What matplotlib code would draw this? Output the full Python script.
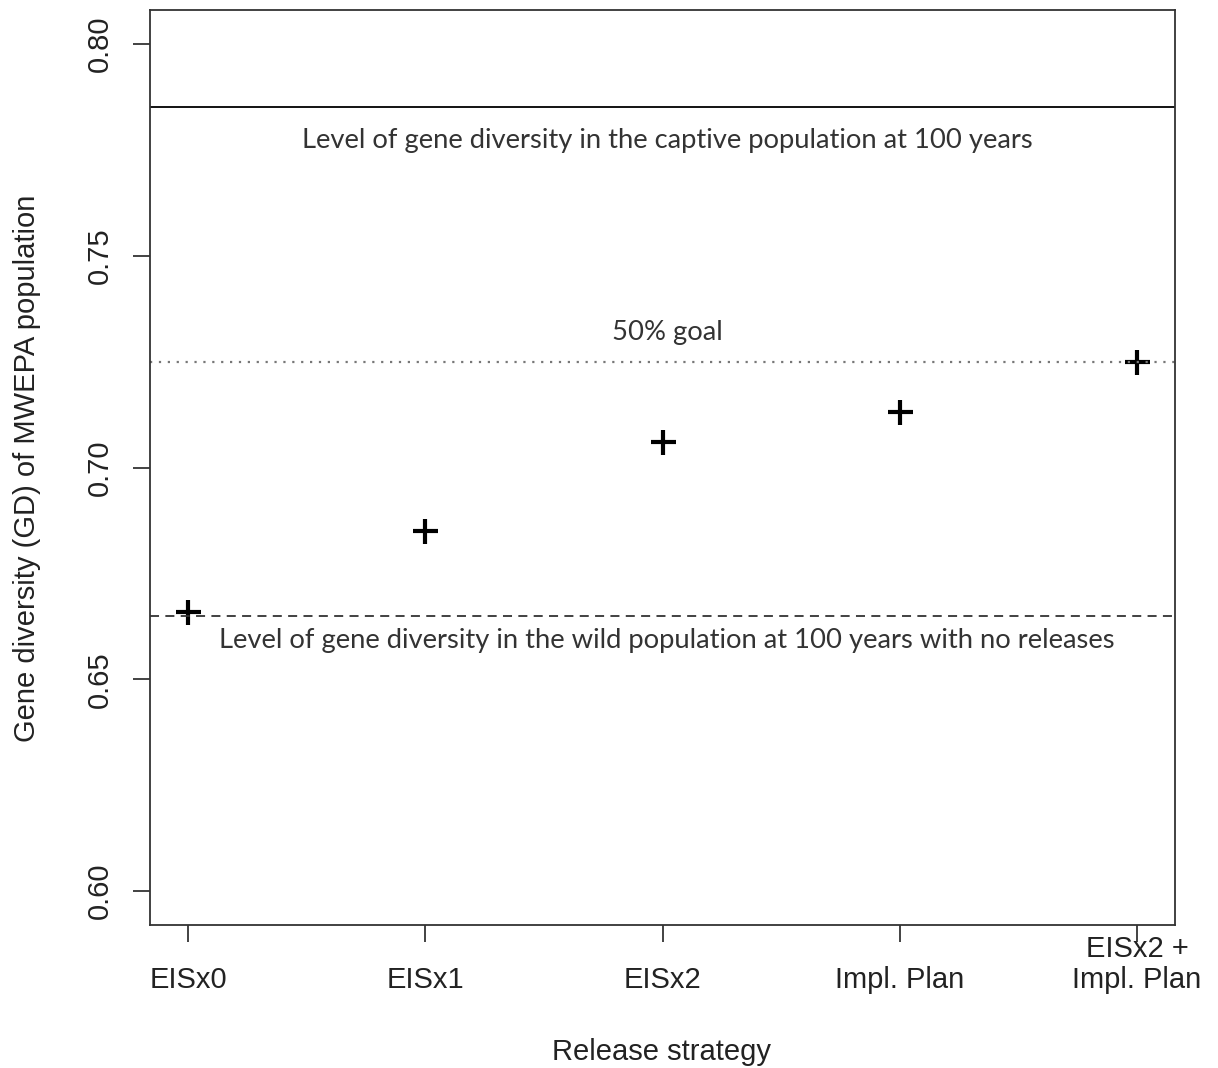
import matplotlib
matplotlib.use("Agg")
import matplotlib.pyplot as plt

categories = ["EISx0", "EISx1", "EISx2", "Impl. Plan", "EISx2 +\nImpl. Plan"]
gd_values = [0.666, 0.685, 0.706, 0.713, 0.725]
captive_level = 0.785
goal_level = 0.725
wild_level = 0.665
y_ticks = [0.60, 0.65, 0.70, 0.75, 0.80]
y_tick_labels = ["0.60", "0.65", "0.70", "0.75", "0.80"]

fig = plt.figure(figsize=(12.18, 10.68), dpi=100)
ax = fig.add_axes([150/1218, 1-925/1068, (1175-150)/1218, (925-10)/1068])

x = list(range(1, len(categories)+1))
ax.plot(x, gd_values, linestyle="none", marker="+", markersize=18, mew=3.0, color="black")

ax.axhline(captive_level, color="black", lw=1.3)
ax.axhline(goal_level, color="#777777", lw=1.6, linestyle=(0, (1, 3)))
ax.axhline(wild_level, color="#333333", lw=1.3, linestyle=(0, (5, 3.5)))

tfont = dict(family=["Lato", "DejaVu Sans"], fontsize=19.7, color="#333333", ha="center", va="center")
ax.text(3.02, 0.7773, "Level of gene diversity in the captive population at 100 years", **tfont)
ax.text(3.02, 0.7318, "50% goal", **tfont)
ax.text(3.02, 0.6591, "Level of gene diversity in the wild population at 100 years with no releases", **tfont)

ax.set_xlim(0.84, 5.16)
ax.set_ylim(0.592, 0.808)
ax.set_xticks(x)
ax.set_xticklabels(categories, fontsize=21, family="Liberation Sans", va="bottom", linespacing=1.15)
ax.set_yticks(y_ticks)
ax.set_yticklabels(y_tick_labels, fontsize=21, family="Liberation Sans", rotation=90, va="center")
ax.tick_params(axis="x", length=12, width=1.2, pad=38, colors="#222222")
ax.tick_params(axis="y", length=12, width=1.2, pad=14, colors="#222222")
for s in ax.spines.values():
    s.set_linewidth(1.3)
    s.set_color("#333333")

fig.text(662/1218, 1-1052/1068, "Release strategy", fontsize=21, family="Liberation Sans",
         ha="center", va="center", color="#222222")
fig.text(27/1218, 1-468/1068, "Gene diversity (GD) of MWEPA population", fontsize=21,
         family="Liberation Sans", ha="center", va="center", rotation=90, color="#222222")

fig.savefig("out.png", dpi=100)
